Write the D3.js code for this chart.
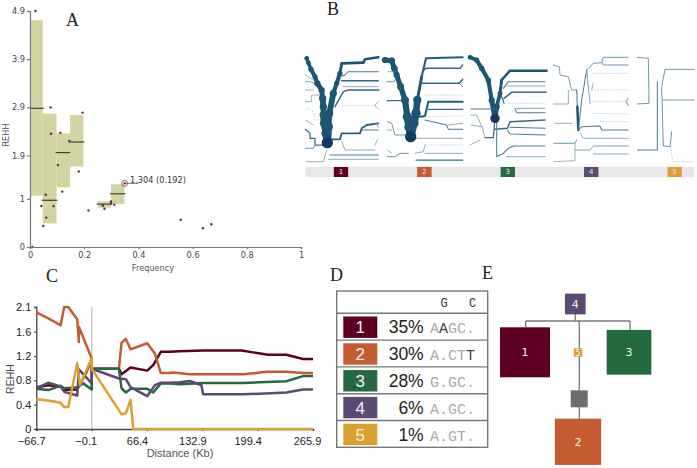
<!DOCTYPE html>
<html>
<head>
<meta charset="utf-8">
<script src="https://cdn.jsdelivr.net/npm/d3@7"></script>
<style>
  body { margin: 0; background: #fff; }
  svg { display: block; }
  .small text { font-family: "DejaVu Sans", sans-serif; font-size: 8.2px; fill: #444; }
  .medium text { font-family: "Liberation Sans", sans-serif; font-size: 11px; fill: #222; }
</style>
</head>
<body>
<div id="chart"></div>
<script>
// Haplotypes, shared by panels B, C, D and E
var hapIds = [1, 2, 3, 4, 5];
var hapColors = ["#5e0023", "#c45c32", "#246a3e", "#5b4a72", "#dca030"];
var hapPercent = [35, 30, 28, 6, 1];
var hapSeq = ["AAGC.", "A.CTT", "G.GC.", "A.GC.", "A.GT."];
var hapSeqDark = [1, 4, -1, -1, -1];  // letter drawn darker in each sequence
var seqHeader = ["G", "C"];

// Panel A
var freqTicks = [0, 0.2, 0.4, 0.6, 0.8, 1];
var rehhTicks = [0, 1, 1.9, 2.9, 3.9, 4.9];
var binStart = [0.004, 0.047, 0.098, 0.148, 0.25, 0.299];
var binEnd = [0.047, 0.098, 0.148, 0.197, 0.299, 0.348];
var binTop = [4.71, 2.77, 2.36, 2.74, 0.95, 1.30];
var binBottom = [1.065, 0.49, 1.24, 1.67, 0.815, 0.89];
var binMedian = [2.88, 0.97, 1.96, 2.18, 0.89, 1.105];
var pointFreq = [0.02, 0.076, 0.0775, 0.112, 0.194, 0.145, 0.103, 0.18, 0.119, 0.058, 0.042, 0.087, 0.06, 0.049, 0.216, 0.269, 0.275, 0.299, 0.299, 0.311, 0.349, 0.556, 0.638, 0.669, 0.009];
var pointRehh = [4.9, 2.9, 2.35, 2.37, 2.79, 2.2, 1.7, 1.57, 1.15, 1.085, 0.85, 0.85, 0.61, 0.436, 0.76, 0.857, 0.795, 0.947, 0.913, 0.878, 1.32, 0.567, 0.388, 0.471, 0];
var selected = { freq: 0.349, rehh: 1.32, label: "1.304 (0.192)", medianEnd: 0.4 };

// Panel C, [distance, rehh]
var distTicks = [-66.7, -0.1, 66.4, 132.9, 199.4, 265.9];
var distLabelShift = [-5, -6, -10, -10, -10, -6];
var decayTicks = [0, 0.4, 0.8, 1.2, 1.6, 2.1];
var decay1 = [[-66.7,.685],[-52.3,.72],[-37.5,.7],[-33.1,.64],[-17.5,.65],[-6.3,.94],[-.1,1.16],[-.1,.99],[32.6,.99],[35.8,.9],[46.6,1.01],[66.6,.96],[73.8,1.05],[83,1.27],[93.8,1.27],[105.8,1.28],[133.8,1.29],[179.9,1.29],[193.9,1.26],[211.9,1.22],[233.9,1.22],[253.9,1.15],[265.9,1.15]];
var decay2 = [[-66.7,1.99],[-52.3,1.87],[-37.5,1.73],[-33.1,2.1],[-28.3,2.1],[-17.5,1.85],[-15.5,1.43],[-15.5,1.7],[-.1,1.16],[-.1,.99],[32.6,.99],[35.8,1.42],[41,1.48],[46.6,1.31],[66.6,1.41],[75.8,1.24],[83,.92],[93.8,.92],[97.8,.93],[117.8,.9],[181.9,.9],[209.9,.94],[233.9,.94],[253.9,.92],[265.9,.92]];
var decay3 = [[-66.7,.66],[-52.3,.64],[-37.5,.71],[-33.1,.67],[-17.5,.685],[-10.3,.75],[-.1,.65],[-.1,.99],[32.6,.99],[35.8,.67],[41,.6],[46.6,.66],[66.6,.66],[73.8,.6],[83,.75],[93.8,.75],[105.8,.735],[133.8,.755],[181.9,.755],[201.9,.77],[233.9,.785],[253.9,.87],[265.9,.87]];
var decay4 = [[-66.7,.67],[-52.3,.76],[-37.5,.7],[-33.1,.61],[-17.5,.55],[-15.5,.98],[-.1,.75],[-.1,.99],[32.6,.83],[41,.82],[46.6,.69],[66.6,.54],[75.8,.72],[83,.76],[93.8,.76],[105.8,.77],[117.8,.79],[131.8,.72],[133.8,.57],[181.9,.57],[233.9,.6],[253.9,.65],[265.9,.65]];
var decay5 = [[-66.7,.49],[-52.3,.47],[-37.5,.43],[-33.1,.36],[-28.3,.36],[-17.5,1.08],[-14.3,.72],[-.1,1.16],[-.1,.99],[35.8,.24],[41,.26],[46.6,.48],[49.8,0],[93.8,0],[265.9,0]];
var decays = [decay1, decay2, decay3, decay4, decay5];

// Panel B, bifurcation branches as [count, [marker, rank], ...]
var tree1 = [
  [0.9,[16,105],[40,120]],[0.9,[60,165],[35,165],[35,185],[16,185]],[0.5,[20,205],[40,215],[45,240],[65,240]],[0.9,[16,240],[40,255]],
  [3,[16,268],[30,280],[30,295],[45,295],[45,315],[80,315]],[2,[16,325],[40,325],[45,315]],[0.9,[18,365],[70,365],[80,330]],
  [1.5,[16,125],[30,125],[45,130]],[1,[16,150],[40,150]],
  [9,[20,55],[25,68],[33,88]],[10,[33,88],[45,110],[52,130]],[12,[52,130],[65,150],[68,175]],[14,[68,175],[70,200],[71,225]],[16,[71,225],[72,250],[78,280]],[18,[78,280],[82,308]],
  [18,[82,308],[85,260]],[15,[85,260],[88,220]],[14,[88,220],[100,160]],[10,[100,160],[110,130],[120,100]],[7,[120,100],[125,70],[190,68]],[6,[190,68],[195,58],[235,52]],
  [2.5,[120,110],[135,105],[145,95],[235,95]],[3.5,[125,122],[235,122]],[1,[130,140],[235,140]],[3.5,[105,200],[130,155],[145,150],[237,150]],
  [0.5,[125,197],[235,197]],[1,[225,195],[235,185]],[1,[225,197],[235,207]],
  [4.5,[82,298],[120,298],[125,280],[180,280],[185,265],[200,255],[235,250]],[2.5,[185,270],[235,270]],[1,[230,250],[235,262]],
  [1,[125,305],[135,330],[225,330]],[1,[225,315],[232,300]],[2.5,[90,345],[235,345]],[1,[85,358],[235,358]]
];
var tree2 = [
  [12,[255,60],[275,62]],[12,[275,62],[283,85]],[12,[283,85],[290,105],[302,140]],[13,[302,140],[315,180]],[15,[315,180],[322,230]],[18,[322,230],[327,262],[332,290]],
  [18,[332,290],[342,250],[348,220]],[16,[348,220],[352,180]],[7,[352,180],[365,110]],[5,[365,110],[378,55],[488,52]],
  [3.5,[372,90],[378,85],[480,85],[488,75]],[3.5,[366,130],[478,130],[488,118]],[2,[478,130],[488,140]],[0.5,[375,165],[488,165]],
  [5,[360,230],[375,228],[385,185],[488,185]],[3,[385,208],[488,208]],[0.5,[385,230],[488,228]],
  [2.5,[375,240],[440,255],[445,268],[488,268]],[1,[445,255],[488,250]],[1,[340,295],[488,295]],
  [0.5,[375,315],[488,315]],[1,[345,340],[370,335],[375,315]],[1,[375,340],[488,340]],[3,[348,360],[488,360]],
  [2,[260,125],[282,125],[290,110]],[3,[262,182],[315,182]],[1,[265,95],[285,95]],[2,[262,245],[275,250],[285,285],[315,285]],
  [1,[262,270],[275,270]],[2,[262,350],[285,350],[300,340],[325,340]],[1,[262,330],[275,340]]
];
var tree3 = [
  [9,[510,52],[530,60]],[10,[530,60],[545,85]],[10,[545,85],[565,120]],[10,[565,120],[575,180]],[12,[575,180],[585,235]],
  [12,[585,235],[590,200]],[9,[590,200],[600,160]],[7,[600,160],[605,120]],[6,[605,120],[630,92],[740,92]],
  [2.5,[610,145],[625,125],[735,125]],[1,[620,138],[735,138]],[3,[603,165],[612,190]],[3.5,[612,175],[635,157],[738,157]],[0.5,[625,190],[735,190]],
  [1.5,[650,205],[735,205]],[2.5,[645,205],[650,218],[735,218]],[2.5,[512,207],[585,207]],
  [3,[585,235],[580,293],[555,293]],[1,[555,293],[548,265],[530,225],[512,225]],[1,[510,315],[540,300]],[1,[512,255],[545,260]],
  [3.5,[585,268],[622,265],[630,245],[735,240]],[2.5,[622,270],[630,282],[735,285]],[2.5,[630,262],[735,265]],
  [2.5,[590,240],[590,350],[610,340],[625,325],[640,318],[735,318]],[1,[620,350],[735,350]]
];
var tree4 = [
  [1.5,[760,75],[778,80],[780,105],[805,110],[815,150],[830,150]],[2.5,[830,150],[832,200]],[6,[832,200],[835,270]],
  [2.5,[835,270],[845,180]],[2.5,[845,180],[860,90]],[2,[860,90],[880,70],[905,68],[910,52],[985,52]],[2,[905,68],[910,75],[985,75]],
  [0.5,[880,100],[985,100]],[1.5,[860,90],[870,190]],[0.5,[875,150],[985,150]],[0.9,[875,150],[880,130]],[0.5,[875,185],[985,185]],
  [2,[985,175],[978,185],[985,197]],[0.5,[875,220],[985,222]],[2.5,[835,270],[845,260],[900,258],[905,270],[985,270]],
  [0.5,[900,245],[985,245]],[1,[840,280],[850,295],[985,295]],[1.5,[825,330],[870,330],[880,318],[985,318]],[1,[880,342],[985,342]],
  [1,[765,250],[815,250]],[1,[760,192],[805,192],[805,150]],[2,[762,310],[825,310],[830,300]],[0.9,[762,365],[825,362],[825,310]]
];
var tree5 = [
  [2,[1012,52],[1045,55],[1047,190],[1012,192]],[2.5,[1012,330],[1072,330],[1072,125]],
  [2,[1182,88],[1095,88],[1085,140],[1090,318],[1110,320],[1115,275]],[2,[1088,180],[1182,180]],[0.5,[1112,320],[1118,365],[1182,365]]
];
var trees = [tree1, tree2, tree3, tree4, tree5];
var treeCores = [[82, 308, 17], [332, 290, 17], [585, 235, 14]];

var svg = d3.select("#chart")
  .append("svg")
  .attr("width", 697)
  .attr("height", 468);

// Panel letters
var letters = [["A", 66, 26], ["B", 327, 15], ["C", 46, 282], ["D", 330, 281], ["E", 482, 279]];
svg.selectAll("text.letter")
  .data(letters)
  .enter()
  .append("text")
  .attr("class", "letter")
  .attr("x", d => d[1])
  .attr("y", d => d[2])
  .attr("font-family", "Liberation Serif")
  .attr("font-size", 18)
  .attr("fill", "#222")
  .text(d => d[0]);

// Panel A
// ==============================
var xA = d3.scaleLinear().domain([0, 1]).range([30, 301]);
var yA = d3.scaleLinear().domain([0, 4.9]).range([247, 11]);
var groupA = svg.append("g");

binStart.forEach(function(d, i) {
  groupA.append("rect")
    .attr("x", xA(d))
    .attr("y", yA(binTop[i]))
    .attr("width", xA(binEnd[i]) - xA(d))
    .attr("height", yA(binBottom[i]) - yA(binTop[i]))
    .attr("fill", "#d2d4a2");
  groupA.append("line")
    .attr("x1", xA(d) - 1)
    .attr("x2", xA(binEnd[i]) + 1)
    .attr("y1", yA(binMedian[i]))
    .attr("y2", yA(binMedian[i]))
    .attr("stroke", "#3e3e2c")
    .attr("stroke-width", 1.2);
});

groupA.append("line")
  .attr("x1", xA(selected.freq))
  .attr("x2", xA(selected.medianEnd))
  .attr("y1", yA(selected.rehh))
  .attr("y2", yA(selected.rehh))
  .attr("stroke", "#888")
  .attr("stroke-width", 1);

groupA.selectAll("circle.dot")
  .data(pointFreq)
  .enter()
  .append("circle")
  .attr("class", "dot")
  .attr("cx", d => xA(d))
  .attr("cy", (d, i) => yA(pointRehh[i]))
  .attr("r", 1.2)
  .attr("fill", "#7a1f30");

groupA.append("circle")
  .attr("cx", xA(selected.freq))
  .attr("cy", yA(selected.rehh))
  .attr("r", 3)
  .attr("fill", "none")
  .attr("stroke", "#8a5a68")
  .attr("stroke-width", 1);

groupA.append("text")
  .attr("x", 130)
  .attr("y", yA(selected.rehh) - 0.7)
  .attr("font-family", "DejaVu Sans")
  .attr("font-size", 8.2)
  .attr("fill", "#333")
  .text(selected.label);

var axisBottomA = d3.axisBottom(xA).tickValues(freqTicks).tickFormat(d3.format("~g")).tickSize(2).tickPadding(3);
var axisLeftA = d3.axisLeft(yA).tickValues(rehhTicks).tickFormat(d3.format("~g")).tickSize(3).tickPadding(2);

var gxA = groupA.append("g").attr("class", "small").attr("transform", "translate(0,247)").call(axisBottomA);
var gyA = groupA.append("g").attr("class", "small").attr("transform", "translate(30,0)").call(axisLeftA);
[gxA, gyA].forEach(function(g) {
  g.selectAll("path, line").attr("stroke", "#777").attr("stroke-width", 1.2);
});

groupA.append("text")
  .attr("x", 153)
  .attr("y", 271)
  .attr("text-anchor", "middle")
  .attr("font-family", "DejaVu Sans")
  .attr("font-size", 8.2)
  .attr("fill", "#555")
  .text("Frequency");

groupA.append("text")
  .attr("transform", "translate(9,135) rotate(-90)")
  .attr("text-anchor", "middle")
  .attr("font-family", "DejaVu Sans")
  .attr("font-size", 8.2)
  .attr("fill", "#555")
  .text("REHH");

// Panel B
// ==============================
var xB = d3.scaleLinear().domain([0, 1191]).range([300, 697]);
var yB = d3.scaleLinear().domain([0, 450]).range([40, 190]);
var groupB = svg.append("g");
var branchLine = d3.line().x(d => xB(d[0])).y(d => yB(d[1]));
var branchColor = d3.scaleLinear().domain([0.5, 1, 3, 6]).range(["#b8cad4", "#84a4b6", "#356e8c", "#1c5672"]).clamp(true);
var branchWidth = d => Math.max(0.9, d / 2.4);

groupB.append("rect")
  .attr("x", xB(16))
  .attr("y", yB(380))
  .attr("width", xB(1182) - xB(16))
  .attr("height", yB(412) - yB(380))
  .attr("fill", "#e8e8e8");

trees.forEach(function(tree) {
  groupB.selectAll(null)
    .data(tree)
    .enter()
    .append("path")
    .attr("d", d => branchLine(d.slice(1)))
    .attr("fill", "none")
    .attr("stroke", d => branchColor(d[0]))
    .attr("stroke-width", d => branchWidth(d[0]))
    .attr("stroke-dasharray", d => d[0] <= 0.5 ? "1.5,1.5" : null)
    .attr("stroke-linecap", d => d[0] <= 0.5 ? "butt" : "round")
    .attr("stroke-linejoin", "round");

  // knots along the thick trunks
  tree.filter(d => d[0] >= 9).forEach(function(d) {
    groupB.selectAll(null)
      .data(d.slice(1))
      .enter()
      .append("circle")
      .attr("cx", p => xB(p[0]))
      .attr("cy", p => yB(p[1]))
      .attr("r", branchWidth(d[0]) * 0.62)
      .attr("fill", "#1c5672");
  });
});

groupB.selectAll("circle.core")
  .data(treeCores)
  .enter()
  .append("circle")
  .attr("class", "core")
  .attr("cx", d => xB(d[0]))
  .attr("cy", d => yB(d[1]))
  .attr("r", d => d[2] / 3)
  .attr("fill", "#123a62");

var xKey = d3.scaleLinear().domain([1, 5]).range([341, 674.6]);
hapIds.forEach(function(id, i) {
  groupB.append("rect")
    .attr("x", xKey(id) - 7.2)
    .attr("y", yB(381))
    .attr("width", 14.4)
    .attr("height", 10)
    .attr("fill", hapColors[i]);
  groupB.append("text")
    .attr("x", xKey(id))
    .attr("y", yB(402))
    .attr("text-anchor", "middle")
    .attr("font-family", "DejaVu Sans")
    .attr("font-size", 7)
    .attr("fill", "#eee")
    .text(id);
});

// Panel C
// ==============================
var xC = d3.scaleLinear().domain([-66.7, 265.9]).range([36.3, 313]);
var yC = d3.scaleLinear().domain([0, 1.6, 2.1]).range([429, 331.7, 307]);
var groupC = svg.append("g");
var decayLine = d3.line().x(d => xC(d[0])).y(d => yC(d[1]));

groupC.append("line")
  .attr("x1", xC(-0.1))
  .attr("x2", xC(-0.1))
  .attr("y1", 307)
  .attr("y2", 429)
  .attr("stroke", "#ccc")
  .attr("stroke-width", 1.5);

var axisBottomC = d3.axisBottom(xC).tickValues(distTicks).tickFormat(d3.format(".1f")).tickSize(2).tickPadding(6);
var axisLeftC = d3.axisLeft(yC).tickValues(decayTicks).tickFormat(d3.format("~g")).tickSize(2).tickPadding(3);

var gxC = groupC.append("g").attr("class", "medium").attr("transform", "translate(0,429)").call(axisBottomC);
var gyC = groupC.append("g").attr("class", "medium").attr("transform", "translate(36.3,0)").call(axisLeftC);
[gxC, gyC].forEach(function(g) {
  g.selectAll("path, line").attr("stroke", "#444").attr("stroke-width", 1.3);
});
gxC.selectAll("text").attr("x", (d, i) => distLabelShift[i]);

groupC.selectAll("path.decay")
  .data(decays)
  .enter()
  .append("path")
  .attr("class", "decay")
  .attr("d", decayLine)
  .attr("fill", "none")
  .attr("stroke", (d, i) => hapColors[i])
  .attr("stroke-width", 2.5)
  .attr("stroke-linejoin", "round");

groupC.append("text")
  .attr("x", 180)
  .attr("y", 457)
  .attr("text-anchor", "middle")
  .attr("font-family", "Liberation Sans")
  .attr("font-size", 11)
  .attr("fill", "#555")
  .text("Distance (Kb)");

groupC.append("text")
  .attr("transform", "translate(14,379) rotate(-90)")
  .attr("text-anchor", "middle")
  .attr("font-family", "Liberation Sans")
  .attr("font-size", 10.5)
  .attr("fill", "#444")
  .text("REHH");

// Panel D
// ==============================
var rowTop = d3.scaleLinear().domain([0, 5]).range([313.3, 447.3]);
var groupD = svg.append("g");

groupD.append("rect")
  .attr("x", 336.7)
  .attr("y", 291)
  .attr("width", 151)
  .attr("height", 156.3)
  .attr("fill", "none")
  .attr("stroke", "#777")
  .attr("stroke-width", 1.4);

hapIds.forEach(function(id, i) {
  var top = rowTop(i);
  groupD.append("line")
    .attr("x1", 336.7)
    .attr("x2", 487.7)
    .attr("y1", top)
    .attr("y2", top)
    .attr("stroke", "#777")
    .attr("stroke-width", 1.4);
  groupD.append("rect")
    .attr("x", 343.3)
    .attr("y", top + 3.2)
    .attr("width", 34)
    .attr("height", 21.4)
    .attr("fill", hapColors[i]);
  groupD.append("text")
    .attr("x", 360.3)
    .attr("y", top + 20)
    .attr("text-anchor", "middle")
    .attr("font-family", "Liberation Sans")
    .attr("font-size", 17)
    .attr("fill", "#f2f2f2")
    .text(id);
  groupD.append("text")
    .attr("x", 423.7)
    .attr("y", top + 20)
    .attr("text-anchor", "end")
    .attr("font-family", "Liberation Sans")
    .attr("font-size", 17.5)
    .attr("fill", "#222")
    .text(hapPercent[i] + "%");
  var seqText = groupD.append("text")
    .attr("x", 430)
    .attr("y", top + 20)
    .attr("font-family", "Liberation Mono")
    .attr("font-size", 15);
  hapSeq[i].split("").forEach(function(ch, k) {
    seqText.append("tspan")
      .attr("fill", k === hapSeqDark[i] ? "#444" : "#aaa")
      .text(ch);
  });
});

groupD.selectAll("text.header")
  .data(seqHeader)
  .enter()
  .append("text")
  .attr("class", "header")
  .attr("x", (d, i) => i === 0 ? 444 : 472.7)
  .attr("y", 307)
  .attr("text-anchor", "middle")
  .attr("font-family", "Liberation Mono")
  .attr("font-size", 12)
  .attr("fill", "#333")
  .text(d => d);

// Panel E
// ==============================
var sizeE = d3.scaleSqrt().domain([0, 35]).range([0, 50]);
var netX = [525, 578, 629, 575.3, 578];
var netY = [352.3, 441.8, 352.3, 304, 352.5];
var groupE = svg.append("g");

var netLinks = [
  [[575.3, 314], [575.3, 321]],
  [[525.7, 321], [630, 321]],
  [[525.7, 321], [525.7, 327]],
  [[630, 321], [630, 330]],
  [[579.3, 321], [579.3, 390]],
  [[579.3, 407], [579.3, 419]]
];
groupE.selectAll("path.link")
  .data(netLinks)
  .enter()
  .append("path")
  .attr("class", "link")
  .attr("d", d3.line())
  .attr("stroke", "#777")
  .attr("stroke-width", 1.3);

groupE.append("rect")
  .attr("x", 570.7)
  .attr("y", 390.3)
  .attr("width", 17)
  .attr("height", 17)
  .attr("fill", "#6e6e6e");

hapIds.forEach(function(id, i) {
  var s = sizeE(hapPercent[i]);
  groupE.append("rect")
    .attr("x", netX[i] - s / 2)
    .attr("y", netY[i] - s / 2)
    .attr("width", s)
    .attr("height", s)
    .attr("fill", hapColors[i]);
  groupE.append("text")
    .attr("x", netX[i])
    .attr("y", netY[i] + (i === 4 ? 3 : 4))
    .attr("text-anchor", "middle")
    .attr("font-family", "DejaVu Sans")
    .attr("font-size", i === 4 ? 8 : 11)
    .attr("fill", "#f2f2f2")
    .text(id);
});
</script>
</body>
</html>
